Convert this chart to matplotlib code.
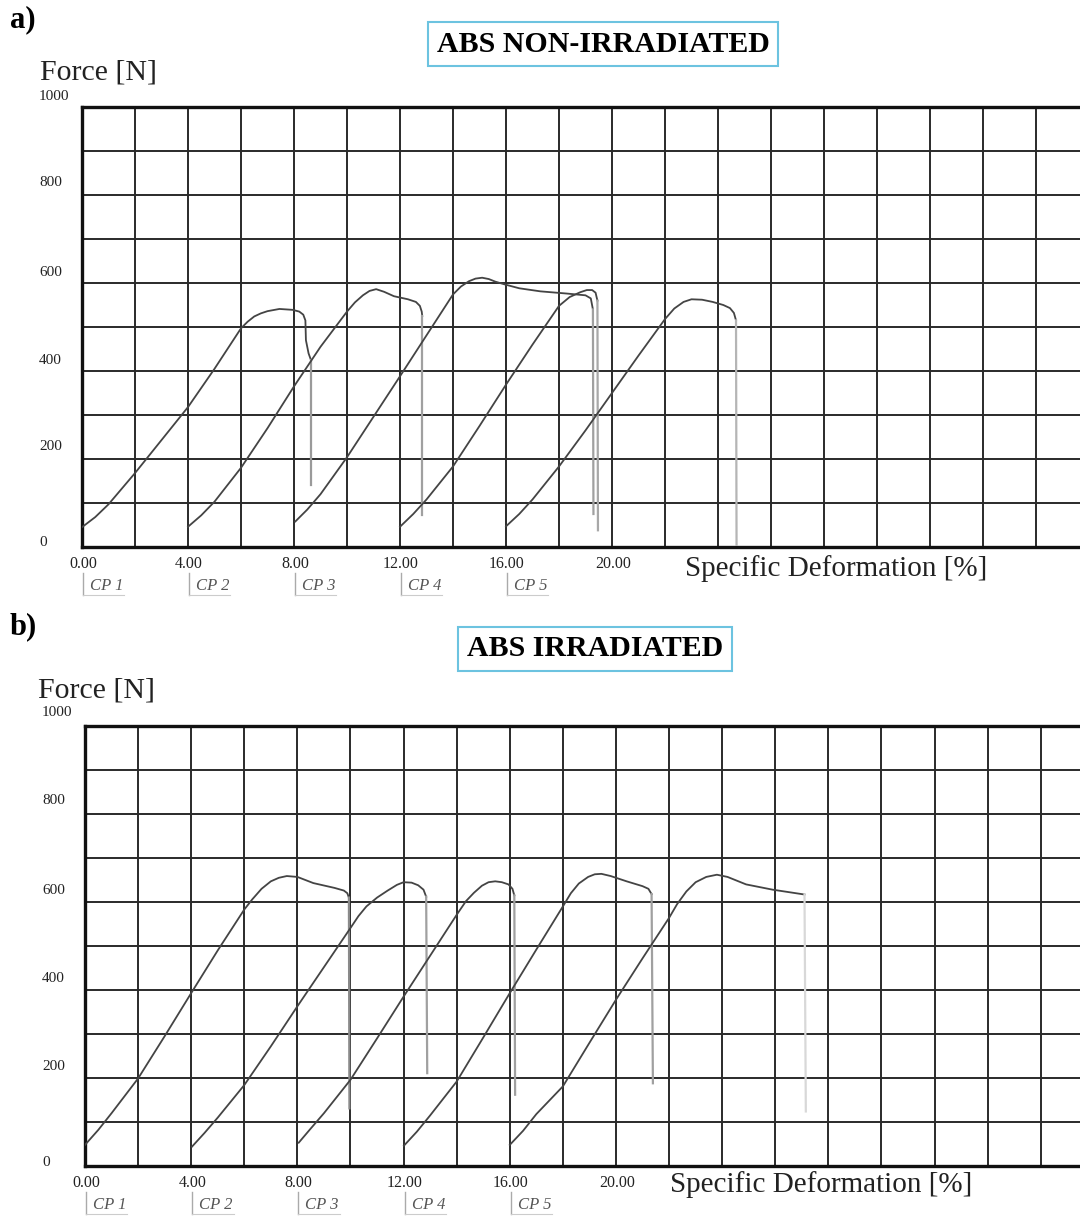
import matplotlib
matplotlib.use("Agg")
import matplotlib.pyplot as plt
import matplotlib.transforms as mtransforms
from matplotlib.lines import Line2D

plt.rcParams['font.family'] = ['Liberation Serif', 'DejaVu Serif']

# -------------------------------
# data
# -------------------------------
cp_names = ["CP 1", "CP 2", "CP 3", "CP 4", "CP 5"]
cp_starts = [0, 4, 8, 12, 16]
x_labelled = [0, 4, 8, 12, 16, 20]
y_labelled = [0, 200, 400, 600, 800, 1000]

# a) non-irradiated -- last point of each list is the end of the break drop
a_cp1_x = [0.0, 0.5, 1.0, 2.0, 3.0, 4.0, 5.0, 6.0, 6.25, 6.5, 6.75, 7.0, 7.45, 7.95, 8.2, 8.35, 8.43, 8.45, 8.55, 8.64, 8.64]
a_cp1_y = [45, 68, 97, 168, 243, 318, 405, 497, 512, 524, 531, 536, 541, 539, 535, 528, 515, 470, 440, 425, 140]
a_cp2_x = [4.0, 4.5, 5.0, 6.0, 7.0, 8.0, 9.0, 10.0, 10.3, 10.6, 10.85, 11.1, 11.4, 11.77, 12.3, 12.6, 12.75, 12.82, 12.84, 12.84]
a_cp2_y = [46, 72, 103, 180, 270, 365, 455, 535, 556, 572, 582, 586, 580, 570, 563, 557, 548, 535, 525, 73]
a_cp3_x = [8.05, 8.5, 9.0, 10.0, 11.0, 12.0, 13.0, 14.0, 14.3, 14.6, 14.85, 15.1, 15.35, 15.6, 16.0, 16.5, 17.3, 18.3, 19.0, 19.2, 19.28, 19.3]
a_cp3_y = [58, 85, 120, 204, 296, 388, 481, 574, 592, 604, 610, 612, 609, 603, 596, 588, 581, 576, 572, 565, 540, 75]
a_cp4_x = [12.0, 12.5, 13.0, 14.0, 15.0, 16.0, 17.0, 18.0, 18.4, 18.8, 19.05, 19.25, 19.38, 19.45, 19.47]
a_cp4_y = [46, 75, 108, 183, 275, 369, 460, 548, 568, 579, 584, 584, 578, 560, 38]
a_cp5_x = [16.0, 16.5, 17.0, 18.0, 19.0, 20.0, 21.0, 22.0, 22.35, 22.7, 23.0, 23.4, 23.8, 24.2, 24.45, 24.6, 24.68, 24.7]
a_cp5_y = [47, 75, 108, 183, 265, 350, 435, 518, 542, 557, 563, 562, 557, 550, 543, 532, 515, 5]

# b) irradiated
b_cp1_x = [0.0, 0.5, 1.0, 2.0, 3.0, 4.0, 5.0, 6.0, 6.3, 6.65, 7.0, 7.3, 7.6, 8.0, 8.6, 9.4, 9.75, 9.88, 9.94, 9.96]
b_cp1_y = [48, 82, 120, 199, 295, 393, 490, 583, 606, 630, 647, 655, 659, 657, 643, 632, 626, 620, 610, 131]
b_cp2_x = [4.03, 4.5, 5.0, 6.0, 7.0, 8.0, 9.0, 10.0, 10.3, 10.6, 11.0, 11.4, 11.75, 12.0, 12.3, 12.55, 12.75, 12.85, 12.89]
b_cp2_y = [44, 75, 110, 184, 272, 363, 452, 541, 568, 590, 610, 626, 639, 645, 644, 638, 628, 612, 211]
b_cp3_x = [8.05, 8.5, 9.0, 10.0, 11.0, 12.0, 13.0, 14.0, 14.35, 14.65, 14.95, 15.2, 15.45, 15.7, 15.95, 16.1, 16.17, 16.2]
b_cp3_y = [53, 85, 120, 196, 290, 385, 478, 571, 602, 621, 637, 645, 647, 645, 640, 630, 615, 162]
b_cp4_x = [12.01, 12.5, 13.0, 14.0, 15.0, 16.0, 17.0, 18.0, 18.3, 18.6, 18.95, 19.2, 19.45, 19.8, 20.4, 21.0, 21.22, 21.34, 21.39]
b_cp4_y = [46, 78, 115, 192, 292, 393, 492, 590, 620, 642, 657, 663, 664, 659, 647, 636, 630, 618, 188]
b_cp5_x = [16.0, 16.5, 17.0, 18.0, 19.0, 20.0, 21.0, 22.0, 22.3, 22.65, 23.0, 23.4, 23.8, 24.2, 24.9, 25.9, 27.1, 27.15]
b_cp5_y = [48, 80, 118, 181, 280, 378, 472, 564, 595, 624, 645, 657, 662, 657, 640, 628, 617, 124]

a_curves = [(a_cp1_x, a_cp1_y), (a_cp2_x, a_cp2_y), (a_cp3_x, a_cp3_y),
            (a_cp4_x, a_cp4_y), (a_cp5_x, a_cp5_y)]
b_curves = [(b_cp1_x, b_cp1_y), (b_cp2_x, b_cp2_y), (b_cp3_x, b_cp3_y),
            (b_cp4_x, b_cp4_y), (b_cp5_x, b_cp5_y)]
a_drop_colors = ["#9a9a9a", "#a0a0a0", "#a0a0a0", "#a8a8a8", "#b5b5b5"]
b_drop_colors = ["#8a8a8a", "#a0a0a0", "#a0a0a0", "#a0a0a0", "#d8d8d8"]

W, H = 1080, 1216


def fx(px):
    return px / W


def fy(py):
    return 1 - py / H


# -------------------------------
# one grid panel
# -------------------------------
def draw_panel(ax, curves, drop_colors, ylab_dy):
    ax.set_xlim(0, 38)
    ax.set_ylim(0, 1000)
    ax.set_xticks(range(0, 39, 2))
    ax.set_yticks(range(0, 1001, 100))
    ax.grid(True, color="#2a2a2a", lw=1.4)
    ax.set_axisbelow(True)
    ax.tick_params(length=0, labelbottom=False, labelleft=False)
    for side in ["left", "top", "bottom"]:
        ax.spines[side].set_linewidth(2.4)
        ax.spines[side].set_color("#111111")
    ax.spines["right"].set_visible(False)

    for (xs, ys), dc in zip(curves, drop_colors):
        ax.plot(xs[:-1], ys[:-1], color="#444444", lw=1.3, zorder=3)
        ax.plot(xs[-2:], ys[-2:], color=dc, lw=1.6, zorder=3)

    # y labels sit a bit above their grid line
    for v, dy in zip(y_labelled, ylab_dy):
        ax.annotate(str(v), xy=(0, v), xycoords=("axes fraction", "data"),
                    xytext=(-43, dy), textcoords="offset pixels",
                    ha="left", va="center", fontsize=11, color="#222222")

    for v in x_labelled:
        ax.annotate(f"{v:.2f}", xy=(v, 0), xycoords=("data", "axes fraction"),
                    xytext=(1, -17), textcoords="offset pixels",
                    ha="center", va="center", fontsize=11.5, color="#222222")

    trans = mtransforms.blended_transform_factory(ax.transData, ax.transAxes)
    for name, s in zip(cp_names, cp_starts):
        ax.annotate(name, xy=(s, 0), xycoords=("data", "axes fraction"),
                    xytext=(8, -39), textcoords="offset pixels",
                    ha="left", va="center", fontsize=12, style="italic",
                    color="#555555")
        bar = Line2D([s + 0.04, s + 0.04], [-0.060, -0.109], transform=trans,
                     color="#aaaaaa", lw=1.0, clip_on=False)
        under = Line2D([s + 0.04, s + 1.6], [-0.109, -0.109], transform=trans,
                       color="#cccccc", lw=0.8, clip_on=False)
        ax.add_line(bar)
        ax.add_line(under)


fig = plt.figure(figsize=(W / 100, H / 100), dpi=100)

ax_a = fig.add_axes([fx(82), fy(547), 38 * 26.5 / W, 440 / H])
draw_panel(ax_a, a_curves, a_drop_colors, [5, 12, 11, 11, 12, 11])

ax_b = fig.add_axes([fx(85), fy(1166), 38 * 26.55 / W, 440 / H])
draw_panel(ax_b, b_curves, b_drop_colors, [4, 11, 11, 12, 13, 13])

title_box = dict(boxstyle="square,pad=0.3", fc="white", ec="#6cc3e0", lw=1.5)
fig.text(fx(603), fy(44), "ABS NON-IRRADIATED", fontsize=21.5, weight="bold",
         ha="center", va="center", bbox=title_box)
fig.text(fx(595), fy(649), "ABS IRRADIATED", fontsize=21.5, weight="bold",
         ha="center", va="center", bbox=title_box)

fig.text(fx(10), fy(20), "a)", fontsize=22, weight="bold", ha="left", va="center")
fig.text(fx(10), fy(627), "b)", fontsize=22, weight="bold", ha="left", va="center")

fig.text(fx(40), fy(73), "Force [N]", fontsize=21.5, ha="left", va="center", color="#222222")
fig.text(fx(38), fy(690), "Force [N]", fontsize=21.5, ha="left", va="center", color="#222222")

fig.text(fx(685), fy(569), "Specific Deformation [%]", fontsize=21,
         ha="left", va="center", color="#222222")
fig.text(fx(670), fy(1185), "Specific Deformation [%]", fontsize=21,
         ha="left", va="center", color="#222222")

fig.savefig("out.png", dpi=100, facecolor="white")
